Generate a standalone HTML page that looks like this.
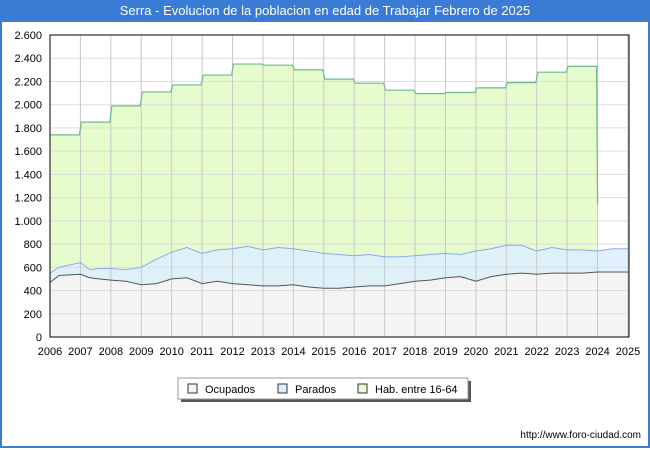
<!DOCTYPE html>
<html><head><meta charset="utf-8"><style>
body{margin:0;width:650px;height:450px;overflow:hidden;font-family:"Liberation Sans","DejaVu Sans",sans-serif;background:#fff}
#frame{position:absolute;left:0;top:0;width:646px;height:446px;border:2px solid #3a7bd5;border-top:none;background:#fff}
#title{position:absolute;left:0;top:0;width:650px;height:22px;background:#3a7bd5;color:#fff;font-size:13px;text-align:center;line-height:22px}
</style></head><body>
<div id="frame"></div>
<div id="title">Serra - Evolucion de la poblacion en edad de Trabajar Febrero de 2025</div>
<svg id="chart" width="650" height="450" style="position:absolute;left:0;top:0"></svg>
<script>
const years=[2006,2007,2008,2009,2010,2011,2012,2013,2014,2015,2016,2017,2018,2019,2020,2021,2022,2023,2024,2025];
const yTicks=[0,200,400,600,800,1000,1200,1400,1600,1800,2000,2200,2400,2600];
const yTickLabels=["0","200","400","600","800","1.000","1.200","1.400","1.600","1.800","2.000","2.200","2.400","2.600"];
const habYears=[2006,2007,2008,2009,2010,2011,2012,2013,2014,2015,2016,2017,2018,2019,2020,2021,2022,2023];
const habValues=[1740,1850,1990,2110,2170,2255,2350,2340,2300,2220,2185,2125,2095,2105,2145,2190,2280,2330];
const habEndValue=1140;
const seriesT=[2006,2006.3,2007,2007.3,2007.6,2008,2008.5,2009,2009.5,2010,2010.5,2011,2011.5,2012,2012.5,2013,2013.5,2014,2014.5,2015,2015.5,2016,2016.5,2017,2017.5,2018,2018.5,2019,2019.5,2020,2020.5,2021,2021.5,2022,2022.5,2023,2023.5,2024,2024.5,2025];
const totalValues=[550,600,640,580,590,590,580,600,670,730,770,720,750,760,780,750,770,760,740,720,710,700,710,690,690,700,710,720,710,740,760,790,790,740,770,750,750,740,760,760];
const ocupValues=[470,530,540,510,500,490,480,450,460,500,510,460,480,460,450,440,440,450,430,420,420,430,440,440,460,480,490,510,520,480,520,540,550,540,550,550,550,560,560,560];
const svg=document.getElementById('chart');const NS='http://www.w3.org/2000/svg';
const L=50,R=629,T=35,B=337;
const x=t=>L+(t-2006)*(R-L-1)/19;const y=v=>B-v*(B-T)/2600;
function el(tag,attrs,parent){const e=document.createElementNS(NS,tag);for(const k in attrs)e.setAttribute(k,attrs[k]);(parent||svg).appendChild(e);return e;}
el('rect',{x:L,y:T,width:R-L,height:B-T,fill:'#fff'});
// hab area
let hp=`M${x(2006)},${y(0)}`;
habYears.forEach((yr,i)=>{hp+=` L${x(yr)+(i?1:0)},${y(habValues[i])} L${x(yr+1)-1},${y(habValues[i])}`;});
hp+=` L${x(2024)},${y(habEndValue)} L${x(2024)},${y(0)} Z`;
const ha=el('path',{d:hp,fill:'#e6fccc',stroke:'none'});

const tp=seriesT.map((t,i)=>`${x(t)},${y(totalValues[i])}`).join(' L');
const pa=el('path',{d:`M${x(2006)},${y(0)} L${tp} L${x(2025)},${y(0)} Z`,fill:'#ddeeff',opacity:0.85});

const op=seriesT.map((t,i)=>`${x(t)},${y(ocupValues[i])}`).join(' L');
const oa=el('path',{d:`M${x(2006)},${y(0)} L${op} L${x(2025)},${y(0)} Z`,fill:'#f4f4f4'});

// grid
yTicks.forEach((v,i)=>{el('line',{x1:L,x2:R,y1:y(v),y2:y(v),stroke:'#dddddd'});
const t=el('text',{x:42,y:y(v)+4,'text-anchor':'end','font-size':11,fill:'#000'});t.textContent=yTickLabels[i];
});
years.forEach(yr=>{el('line',{x1:x(yr),x2:x(yr),y1:T,y2:B,stroke:'#c8c8c8'});
const t=el('text',{x:x(yr),y:355,'text-anchor':'middle','font-size':11,fill:'#000'});t.textContent=yr;
});
// lines
let hl=`M${x(2006)},${y(habValues[0])}`;
habYears.forEach((yr,i)=>{hl+=` L${x(yr)+(i?1:0)},${y(habValues[i])} L${x(yr+1)-1},${y(habValues[i])}`;});
hl+=` L${x(2024)},${y(habEndValue)}`;
const hln=el('path',{d:hl,fill:'none',stroke:'#6dbb8f','stroke-width':1.2});

const pl=el('path',{d:'M'+tp,fill:'none',stroke:'#88aaee','stroke-width':1});

const ol=el('path',{d:'M'+op,fill:'none',stroke:'#555','stroke-width':1});

el('rect',{x:L,y:T,width:R-L,height:B-T,fill:'none',stroke:'#000','stroke-width':1});
// legend
const lg=el('g',{});
el('rect',{x:181,y:381,width:290,height:21,fill:'#555'},lg);
el('rect',{x:178,y:378,width:290,height:21,fill:'#fff',stroke:'#999'},lg);
[['Ocupados','#f4f4f4',188],['Parados','#ddeeff',278],['Hab. entre 16-64','#e6fccc',358]].forEach(([n,c,lx])=>{
el('rect',{x:lx,y:384,width:9,height:9,fill:c,stroke:'#333'},lg);
const t=el('text',{x:lx+17,y:393,'font-size':11,fill:'#000'},lg);t.textContent=n;
});
const u=el('text',{x:641,y:438,'text-anchor':'end','font-size':10,fill:'#000'});u.textContent='http://www.foro-ciudad.com';

</script>
</body></html>
